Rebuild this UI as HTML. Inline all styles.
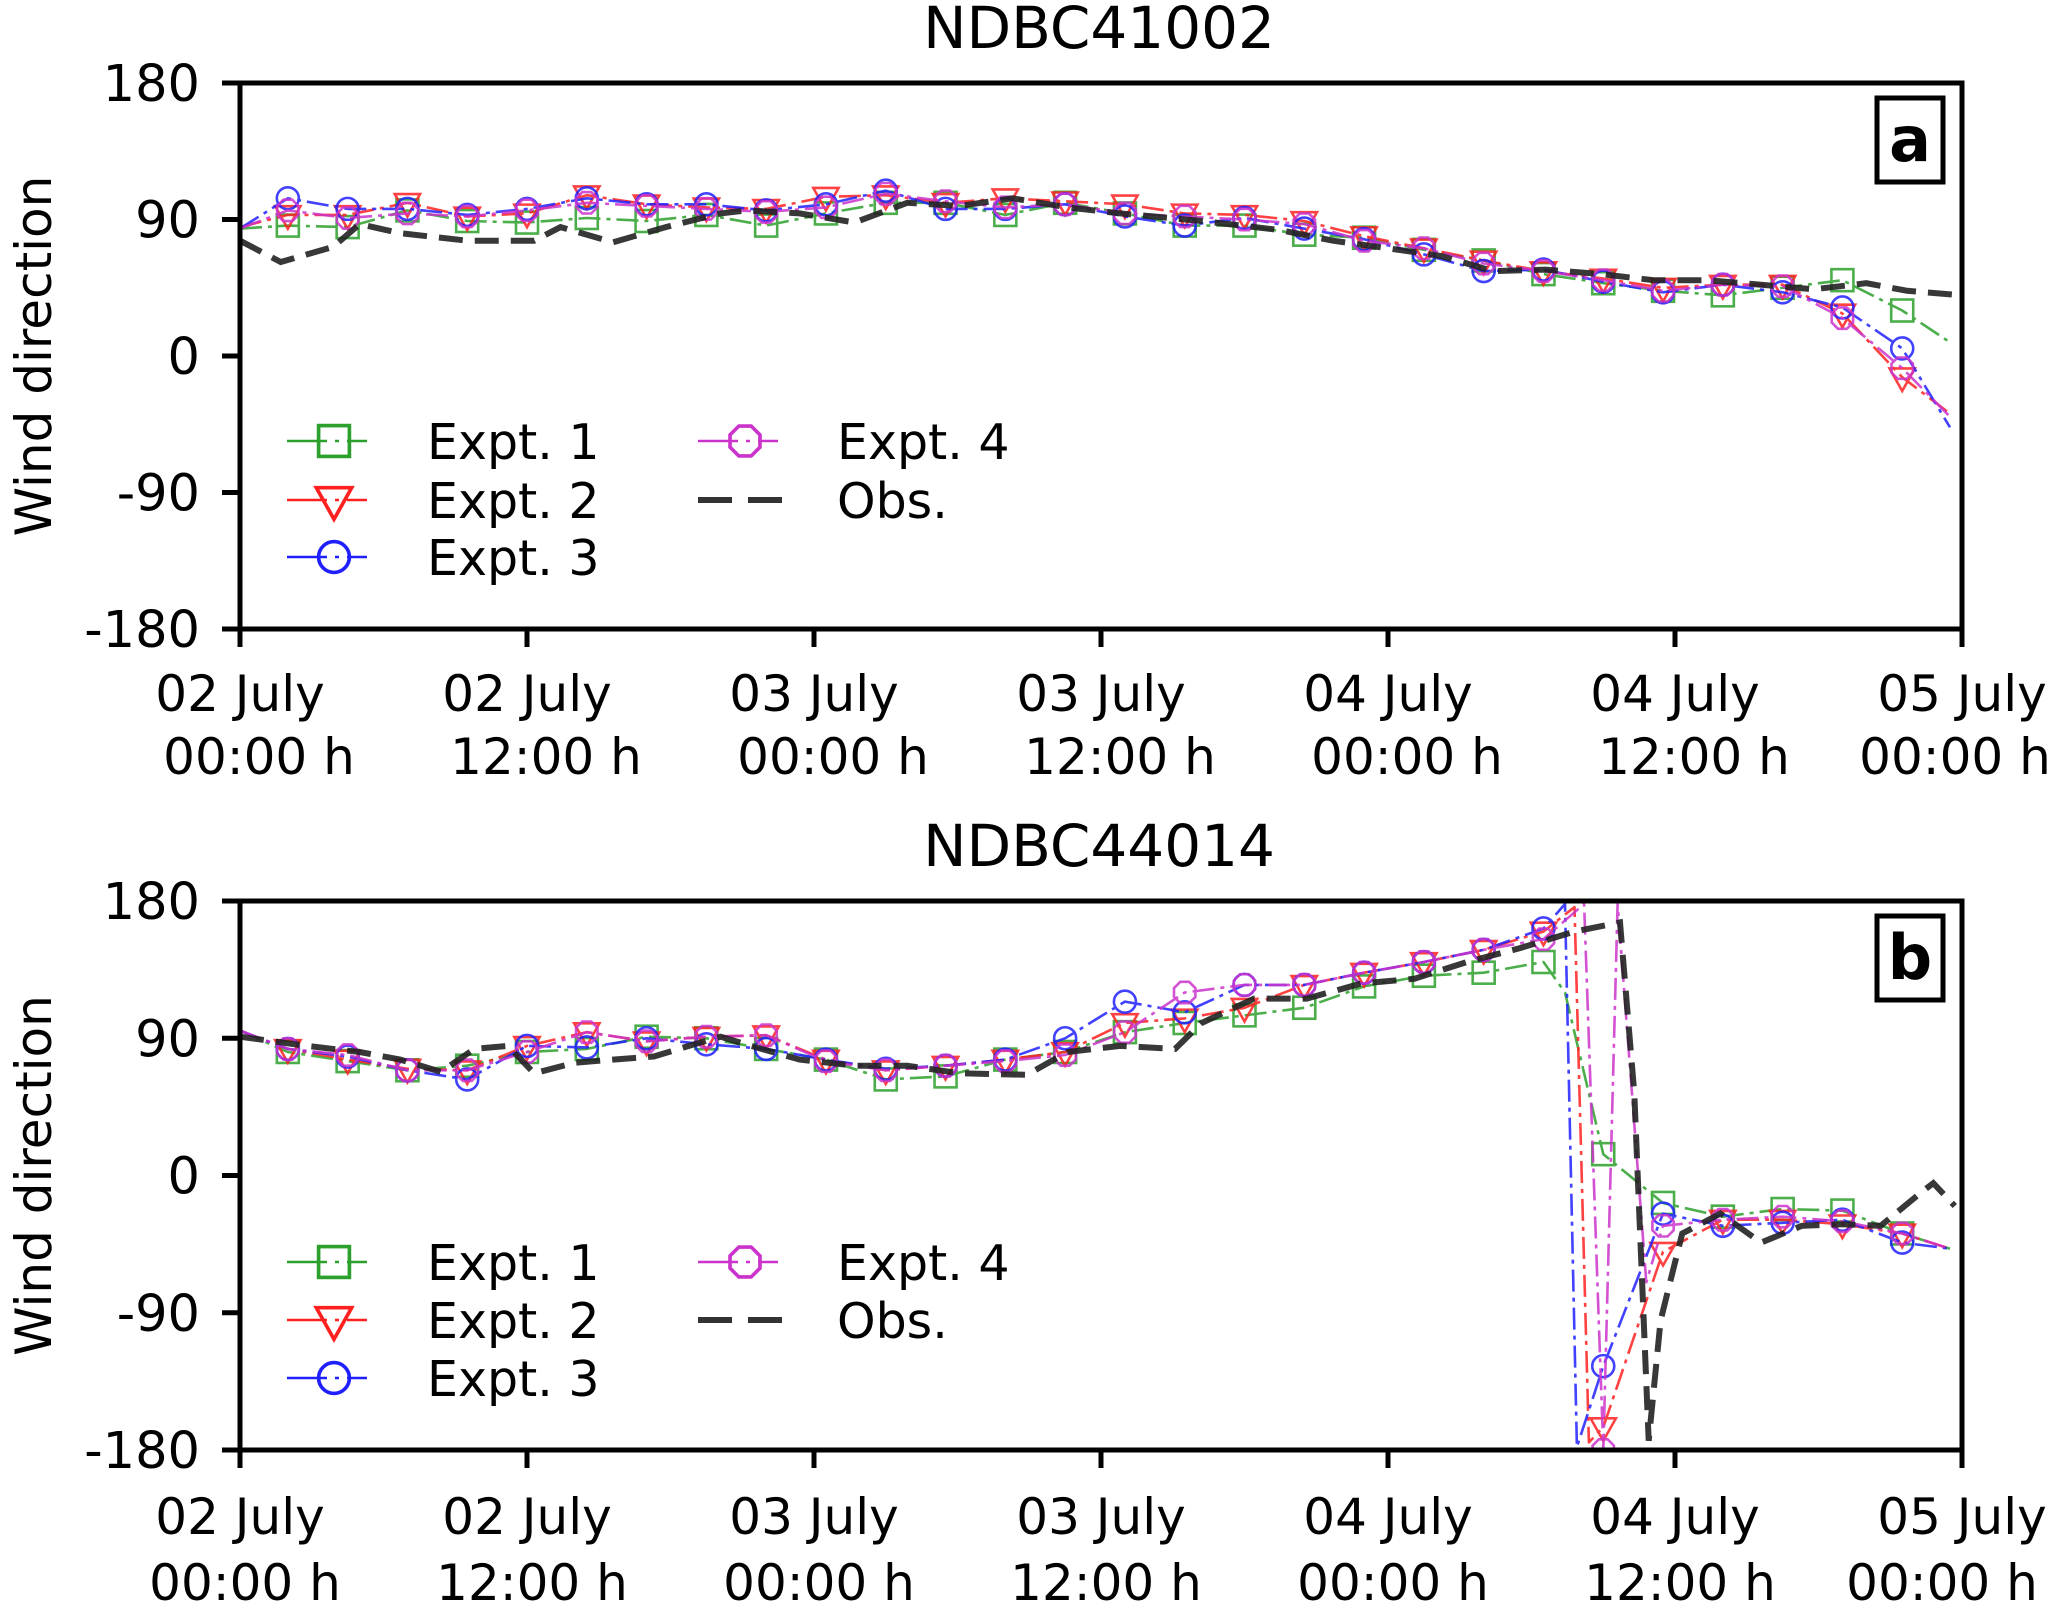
<!DOCTYPE html>
<html><head><meta charset="utf-8">
<style>html,body{margin:0;padding:0;background:#fff}svg{display:block}
text{font-family:"DejaVu Sans","Liberation Sans",sans-serif;fill:#000}</style></head>
<body>
<svg id="chart" xmlns="http://www.w3.org/2000/svg" width="2067" height="1612" viewBox="0 0 2067 1612"></svg>
<script>
// ---------- data ----------
const xTickHours = [0, 12, 24, 36, 48, 60, 72];
const xTickLine1 = ["02 July","02 July","03 July","03 July","04 July","04 July","05 July"];
const xTickLine2 = ["00:00 h","12:00 h","00:00 h","12:00 h","00:00 h","12:00 h","00:00 h"];
const yTicks = [180, 90, 0, -90, -180];
const yTickLabels = ["180","90","0","-90","-180"];
const panelTitles = ["NDBC41002","NDBC44014"];
const panelLetters = ["a","b"];
const seriesNames = ["Expt. 1","Expt. 2","Expt. 3","Expt. 4","Obs."];

const tA = [0,2,4.5,7,9.5,12,14.5,17,19.5,22,24.5,27,29.5,32,34.5,37,39.5,42,44.5,47,49.5,52,54.5,57,59.5,62,64.5,67,69.5,71.5];
const a1 = [84,86,85,96,89,88,91,89,93,86,94,101,101,93,101,94,86,86,80,78,70,63,54,48,43,40,45,50,30,9];
const a2 = [85,93,93,101,92,94,106,100,98,97,105,106,101,104,102,100,94,93,89,79,71,63,56,51,45,47,47,28,-14,-38];
const a3 = [84,104,97,97,93,97,104,100,100,96,100,109,97,97,100,92,86,91,84,77,67,56,57,49,42,47,42,32,5,-47];
const a4 = [84,96,91,94,92,96,101,99,97,95,98,107,102,98,100,94,92,90,87,76,71,61,56,50,43,47,46,25,-8,-40];
const tAobs = [0,1.7,3.9,5,6.7,9.5,12.3,13.4,15.6,17.8,20.1,21.2,23.4,25.7,27.9,30.1,32.3,34.6,36.8,40.2,43.5,45.7,48,50.2,52.4,54.6,56.9,59.1,61.3,63.6,65.8,68,69.7,72];
const aObs = [76,62,72,87,81,76,76,85,75,85,94,96,94,88,101,99,104,98,94,89,83,76,71,66,56,57,54,50,50,47,44,48,43,40];

const tB1 = [0,2,4.5,7,9.5,12,14.5,17,19.5,22,24.5,27,29.5,32,34.5,37,39.5,42,44.5,47,49.5,52,54.5,55.4,57,59.5,62,64.5,67,69.5,71.5];
const b1 = [95,81,75,69,72,81,83,91,90,83,76,63,65,76,81,94,100,105,110,124,131,133,140,120,14,-18,-27,-22,-23,-38,-48];
const tB2 = [0,2,4.5,7,9.5,12,14.5,17,19.5,22,24.5,27,29.5,32,34.5,37,39.5,42,44.5,47,49.5,52,54.5,55.8,56.4,57,59.5,62,64.5,67,69.5,71.5];
const b2 = [95,83,76,70,69,85,94,88,91,92,76,69,72,76,81,100,103,110,125,133,140,148,160,176,-175,-165,-50,-29,-29,-32,-38,-48];
const tB3 = [0,2,4.5,7,9.5,12,14.5,17,19.5,22,24.5,27,29.5,32,34.5,37,39.5,42,44.5,47,49.5,52,54.5,55.4,55.9,57,59.5,62,64.5,67,69.5,71.5];
const b3 = [95,83,78,69,63,85,84,90,86,83,76,70,72,76,90,114,107,125,125,133,140,148,162,178,-178,-125,-25,-33,-31,-29,-44,-48];
const tB4 = [0,2,4.5,7,9.5,12,14.5,17,19.5,22,24.5,27,29.5,32,34.5,37,39.5,42,44.5,47,49.5,52,54.5,56.2,57,57.6,58.8,59.5,62,64.5,67,69.5,71.5];
const b4 = [95,83,79,69,69,81,94,88,91,92,75,69,72,75,79,94,120,125,125,133,140,148,155,178,-180,178,-70,-33,-29,-27,-30,-38,-48];
const tBobs = [0,2.8,5,6.7,8.4,9.8,11.2,12.3,14,15.6,17.3,19,20.1,21.8,23.4,25.7,27.9,30.1,32.9,34.6,36.8,39.1,40.2,42.4,44.6,46.9,49.1,51.3,53.5,55.8,57.7,58.3,58.9,59.4,60.3,61.9,63.6,65.3,67,68.6,70.3,70.8,71.7];
const bObs = [91,85,81,76,68,83,85,67,74,76,78,86,91,83,76,72,72,67,66,81,85,83,100,116,116,126,129,140,149,160,166,54,-174,-95,-38,-25,-44,-33,-32,-33,-11,-5,-20];

// ---------- layout ----------
const svg = document.getElementById('chart');
const NS = 'http://www.w3.org/2000/svg';
const X0 = 240, X1 = 1962;
const panels = [{top:83,bottom:629},{top:901,bottom:1450}];
const colors = ['#2ca02c','#ff2020','#2020ff','#cc33cc','#222'];
const markerTimes = new Set([2,4.5,7,9.5,12,14.5,17,19.5,22,24.5,27,29.5,32,34.5,37,39.5,42,44.5,47,49.5,52,54.5,57,59.5,62,64.5,67,69.5]);

function el(tag, attrs, parent){const e=document.createElementNS(NS,tag);for(const k in attrs)e.setAttribute(k,attrs[k]);(parent||svg).appendChild(e);return e;}
function xs(t){return X0 + (t/72)*(X1-X0);}
function ysFor(p){return v => p.top + (180 - v)/360*(p.bottom-p.top);}

function marker(kind, cx, cy, color, parent){
  const s = 11;
  let m;
  if(kind===0){m=el('rect',{x:cx-s,y:cy-s,width:2*s,height:2*s,fill:'none',stroke:color,'stroke-width':2.6},parent);}
  else if(kind===1){m=el('polygon',{points:`${cx-s*1.15},${cy-s*0.8} ${cx+s*1.15},${cy-s*0.8} ${cx},${cy+s*1.25}`,fill:'none',stroke:color,'stroke-width':2.6},parent);}
  else if(kind===2){m=el('circle',{cx:cx,cy:cy,r:s,fill:'none',stroke:color,'stroke-width':2.6},parent);}
  else {let pts=[];for(let i=0;i<8;i++){const a=Math.PI/8+i*Math.PI/4;pts.push((cx+s*1.05*Math.cos(a)).toFixed(1)+','+(cy+s*1.05*Math.sin(a)).toFixed(1));}
    m=el('polygon',{points:pts.join(' '),fill:'none',stroke:color,'stroke-width':2.6},parent);}
  return m;
}

const panelSeries = [
  {exp:[[tA,a1],[tA,a2],[tA,a3],[tA,a4]], obs:[tAobs,aObs]},
  {exp:[[tB1,b1],[tB2,b2],[tB3,b3],[tB4,b4]], obs:[tBobs,bObs]}
];

panels.forEach((p,pi)=>{
  const ys = ysFor(p);
  const g = el('g',{});
  
  
  const clipId='clip'+pi;
  const cp = el('clipPath',{id:clipId},g); el('rect',{x:X0,y:p.top,width:X1-X0,height:p.bottom-p.top},cp);
  const plot = el('g',{'clip-path':`url(#${clipId})`},g);
  panelSeries[pi].exp.forEach((s,si)=>{
    const [ts,vs]=s;
    const sg = el('g',{opacity:0.85},plot);
    
    
    const d = ts.map((t,i)=>(i?'L':'M')+xs(t).toFixed(1)+','+ys(vs[i]).toFixed(1)).join(' ');
    el('path',{d:d,fill:'none',stroke:colors[si],'stroke-width':2.6,'stroke-dasharray':'22,6,4,6','stroke-linejoin':'round'},sg);
    ts.forEach((t,i)=>{ if(markerTimes.has(t)){ const m=marker(si,xs(t),ys(vs[i]),colors[si],sg);
      
       }});
  });
  const [to,vo]=panelSeries[pi].obs;
  const od = to.map((t,i)=>(i?'L':'M')+xs(t).toFixed(1)+','+ys(vo[i]).toFixed(1)).join(' ');
  const op = el('path',{d:od,fill:'none',stroke:'#222','stroke-width':6,'stroke-dasharray':'24,12',opacity:0.9},plot);
  
  
  const fr = el('rect',{x:X0,y:p.top,width:X1-X0,height:p.bottom-p.top,fill:'none',stroke:'#000','stroke-width':5},g);
  
  
  yTicks.forEach((v,i)=>{
    const y=ys(v);
    el('line',{x1:X0-18,x2:X0,y1:y,y2:y,stroke:'#000','stroke-width':5},g);
    const tx=el('text',{x:X0-40,y:y+18,'text-anchor':'end','font-size':51},g);
    tx.textContent=yTickLabels[i];
    
    
  });
  const off2 = pi===0?19:5;
  const offLast = pi===0?-7:-20;
  const l1 = pi===0?82:84, l2 = pi===0?145:150;
  xTickHours.forEach((h,i)=>{
    const x=xs(h);
    el('line',{x1:x,x2:x,y1:p.bottom,y2:p.bottom+18,stroke:'#000','stroke-width':5},g);
    const t1=el('text',{x:x,y:p.bottom+l1,'text-anchor':'middle','font-size':50},g);
    t1.textContent=xTickLine1[i];
    
    
    const t2=el('text',{x:x+(i===xTickHours.length-1?offLast:off2),y:p.bottom+l2,'text-anchor':'middle','font-size':50},g);
    t2.textContent=xTickLine2[i];
    
    
  });
  const tt=el('text',{x:(X0+X1)/2-2,y:p.top-35,'text-anchor':'middle','font-size':58},g);
  tt.textContent=panelTitles[pi];
  
  
  const cy=(p.top+p.bottom)/2;
  const yl=el('text',{x:0,y:0,'text-anchor':'middle','font-size':50,transform:`translate(51,${cy}) rotate(-90)`},g);
  yl.textContent='Wind direction';
  
  
  const bx=el('rect',{x:1877,y:p.top+15,width:66,height:84,fill:'#fff',stroke:'#000','stroke-width':5},g);
  
  
  const lt=el('text',{x:1910,y:p.top+78,'text-anchor':'middle','font-size':62,'font-weight':'bold'},g);
  lt.textContent=panelLetters[pi];
  
  
  const lg=el('g',{},g);
  
  
  const rowY = pi===0?[441,500,557]:[1262,1320,1378];
  const entries=[[0,0],[1,0],[2,0],[3,1],[4,1]];
  entries.forEach(([si,col],k)=>{
    const row = col===0?k:k-3;
    const y=rowY[row];
    const hx = col===0?287:698;
    const tx = col===0?427:837;
    const eg=el('g',{},lg);
    
    
    if(si<4){
      el('path',{d:`M${hx},${y} L${hx+80},${y}`,stroke:colors[si],'stroke-width':2.6,'stroke-dasharray':'40,8,4,8',fill:'none'},eg);
      marker(si,hx+47,y,colors[si],eg).setAttribute('transform',`translate(${-(hx+47)*0.4},${-y*0.4}) scale(1.4)`);
    } else {
      el('path',{d:`M${hx},${y} L${hx+95},${y}`,stroke:'#333','stroke-width':6,'stroke-dasharray':'34,16',fill:'none'},eg);
    }
    const t=el('text',{x:tx,y:y+18,'font-size':49},eg);
    t.textContent=seriesNames[si];
  });
});
</script>
</body></html>
